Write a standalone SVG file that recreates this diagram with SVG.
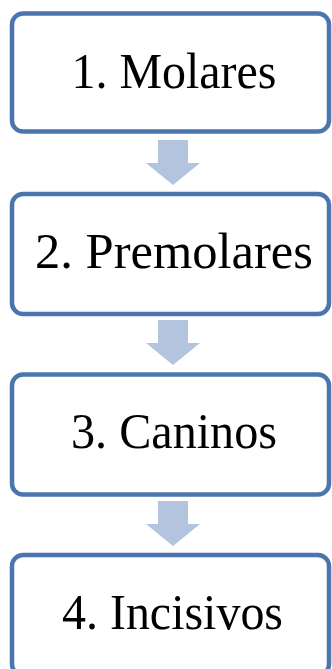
<svg xmlns="http://www.w3.org/2000/svg" width="332" height="669" viewBox="0 0 332 669">
<style>
.box{fill:#FFFFFF;stroke:#4A76AD;stroke-width:4.5}
.lbl{font-family:"Liberation Serif","Times New Roman",serif;font-size:50px;fill:#000000;text-anchor:middle}
.arr{fill:#B3C4DF}
</style>
<rect width="332" height="669" fill="#FFFFFF"/>
<g id="connectors">
<polygon class="arr" points="158,140 188,140 188,163 200,163 173,185 146,163 158,163"/>
<polygon class="arr" points="158,320 188,320 188,343 200,343 173,365 146,343 158,343"/>
<polygon class="arr" points="158,501 188,501 188,524 200,524 173,546 146,524 158,524"/>
</g>
<g id="node1">
<rect class="box" x="12" y="13.5" width="317" height="118" rx="11"/>
<text class="lbl" x="174" y="88" textLength="205" lengthAdjust="spacingAndGlyphs">1. Molares</text>
</g>
<g id="node2">
<rect class="box" x="12" y="194" width="317" height="120" rx="11"/>
<text class="lbl" x="174" y="268" textLength="278" lengthAdjust="spacingAndGlyphs">2. Premolares</text>
</g>
<g id="node3">
<rect class="box" x="12" y="374.5" width="317" height="120" rx="11"/>
<text class="lbl" x="174" y="448" textLength="206" lengthAdjust="spacingAndGlyphs">3. Caninos</text>
</g>
<g id="node4">
<rect class="box" x="12" y="555" width="317" height="120" rx="11"/>
<text class="lbl" x="172.5" y="629" textLength="221" lengthAdjust="spacingAndGlyphs">4. Incisivos</text>
</g>
</svg>
